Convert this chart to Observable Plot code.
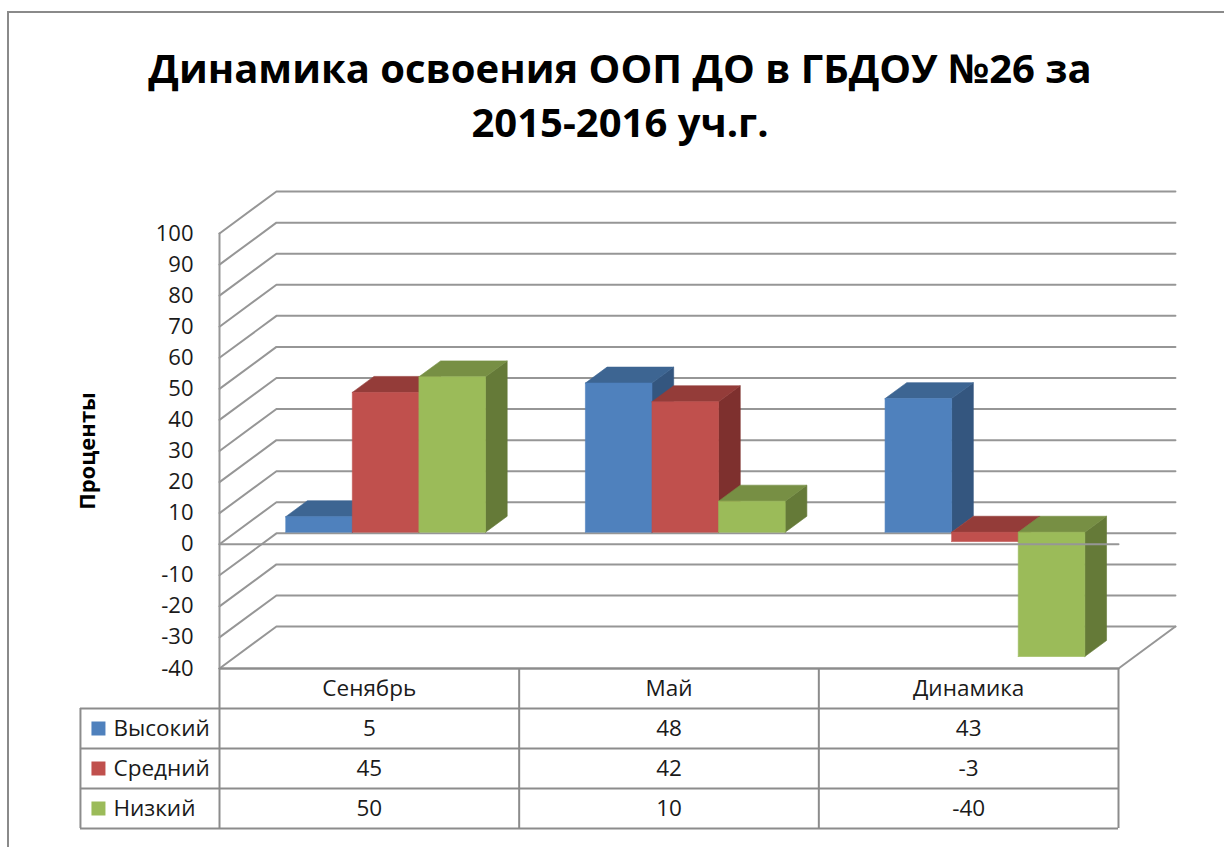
<!DOCTYPE html>
<html>
<head>
<meta charset="utf-8">
<script src="https://cdn.jsdelivr.net/npm/d3@7"></script>
<script src="https://cdn.jsdelivr.net/npm/@observablehq/plot@0.6"></script>
<style>
  html, body { margin: 0; padding: 0; background: #fff; }
  body { width: 1224px; height: 847px; position: relative; overflow: hidden; font-family: "Open Sans", sans-serif; }
  #frame { position: absolute; left: 7px; top: 11px; width: 1400px; height: 1000px; border-left: 2.5px solid #8a8a8a; border-top: 2.5px solid #8a8a8a; }
  #title { position: absolute; left: 0; top: 41px; width: 1240px; text-align: center; font-family: "Open Sans", sans-serif; font-weight: 700; font-size: 40px; line-height: 54px; color: #000; }
  #main { position: absolute; left: 0; top: 160px; }
  #table { position: absolute; left: 0; top: 660px; }
</style>
</head>
<body>
<div id="frame"></div>
<div id="title">Динамика освоения ООП ДО в ГБДОУ №26 за<br>2015-2016 уч.г.</div>
<div id="main"></div>
<div id="table"></div>
<script>
// ---- data ----
const categories = ["Сенябрь", "Май", "Динамика"];
const seriesNames = ["Высокий", "Средний", "Низкий"];
const high = [5, 48, 43];
const mid = [45, 42, -3];
const low = [50, 10, -40];
const yTicks = [-40, -30, -20, -10, 0, 10, 20, 30, 40, 50, 60, 70, 80, 90, 100];
const yLabel = "Проценты";
const frontColors = ["#4F81BD", "#C0504D", "#9BBB59"];
const topColors = ["#3D6592", "#943C39", "#778F44"];
const sideColors = ["#34567F", "#7E302E", "#657A38"];

const values = [high, mid, low];

// oblique 3D projection (depth expressed in data units)
const DEPTH_X = 0.19, DEPTH_Y = 13.5;   // full wall depth
const F0 = 0.286, F1 = 0.667;           // bar front/back depth
const P = (x, y, d) => ({x: x + d * DEPTH_X, y: y + d * DEPTH_Y});
const yMin = d3.min(yTicks), yMax = d3.max(yTicks);
const nCat = categories.length;

// walls: left-wall diagonal + back-wall gridline per tick
const walls = [];
yTicks.forEach(t => {
  [P(0, t, 0), P(0, t, 1), P(nCat, t, 1)].forEach(p => walls.push({...p, id: "g" + t}));
});
// floor right edge
[P(nCat, yMin, 0), P(nCat, yMin, 1)].forEach(p => walls.push({...p, id: "floorR"}));
// floor front edge
[P(0, yMin, 0), P(nCat, yMin, 0)].forEach(p => walls.push({...p, id: "floorF"}));
// front vertical axis
[P(0, yMin, 0), P(0, yMax, 0)].forEach(p => walls.push({...p, id: "axisV"}));

// bars as polygons, drawn left to right: side, top, front
const polys = [];
let pid = 0;
categories.forEach((c, i) => {
  seriesNames.forEach((s, k) => {
    const v = values[k][i];
    const x0 = i + 1 / 6 + k * 2 / 9, x1 = x0 + 2 / 9;
    const lo = Math.min(0, v), hi = Math.max(0, v);
    const faces = [
      [sideColors[k], [P(x1, lo, F0), P(x1, lo, F1), P(x1, hi, F1), P(x1, hi, F0)]],
      [topColors[k], [P(x0, hi, F0), P(x1, hi, F0), P(x1, hi, F1), P(x0, hi, F1)]],
      [frontColors[k], [P(x0, lo, F0), P(x1, lo, F0), P(x1, hi, F0), P(x0, hi, F0)]]
    ];
    faces.forEach(([col, pts]) => {
      const id = "p" + (pid++);
      [...pts, pts[0]].forEach(p => polys.push({...p, id, color: col}));
    });
  });
});

const zeroLine = [P(0, 0, 0), P(nCat, 0, 0)];

const main = Plot.plot({
  width: 1224,
  height: 510,
  marginLeft: 219,
  marginRight: 106,
  marginTop: 73,
  marginBottom: 2,
  x: {domain: [0, nCat], axis: null},
  y: {domain: [yMin, yMax], axis: null},
  color: {type: "identity"},
  style: {background: "transparent", overflow: "visible"},
  marks: [
    Plot.line(walls, {x: "x", y: "y", z: "id", stroke: "#969696", strokeWidth: 2}),
    Plot.line(polys, {x: "x", y: "y", z: "id", fill: "color", stroke: "color", strokeWidth: 0.6}),
    Plot.line(zeroLine, {x: "x", y: "y", stroke: "#969696", strokeWidth: 2}),
    Plot.text(yTicks, {x: 0, y: d => d, text: d => String(d), textAnchor: "end", dx: -26,
      fontSize: 22, fill: "#1a1a1a", fontFamily: "Open Sans"}),
    Plot.text([yLabel], {frameAnchor: "left", textAnchor: "middle", dx: -132, rotate: -90, fontSize: 22,
      fontWeight: "bold", fill: "#000", fontFamily: "Open Sans"})
  ]
});
document.getElementById("main").appendChild(main);

// ---- data table ----
const LEGEND_LEFT = -0.464;   // left edge of the legend column, in category units
const nRows = seriesNames.length + 1;
const hLines = [];
hLines.push({y: 0, x1: 0, x2: nCat});
for (let r = 1; r <= nRows; r++) hLines.push({y: r, x1: LEGEND_LEFT, x2: nCat});
const vLines = [{x: LEGEND_LEFT, y1: 1, y2: nRows}];
for (let i = 0; i <= nCat; i++) vLines.push({x: i, y1: 0, y2: nRows});

const cellText = [];
categories.forEach((c, i) => cellText.push({x: i + 0.5, y: 0.5, t: c}));
seriesNames.forEach((s, k) => {
  categories.forEach((c, i) => cellText.push({x: i + 0.5, y: k + 1.5, t: String(values[k][i])}));
});
const legendRows = seriesNames.map((s, k) => ({x: LEGEND_LEFT, y: k + 1.5, t: s, color: frontColors[k]}));

const table = Plot.plot({
  width: 1224,
  height: 180,
  marginLeft: 219,
  marginRight: 106,
  marginTop: 8,
  marginBottom: 12,
  x: {domain: [0, nCat], axis: null},
  y: {domain: [0, nRows], reverse: true, axis: null},
  color: {type: "identity"},
  style: {background: "transparent", overflow: "visible"},
  marks: [
    Plot.ruleY(hLines, {y: "y", x1: "x1", x2: "x2", stroke: "#8c8c8c", strokeWidth: 2}),
    Plot.ruleX(vLines, {x: "x", y1: "y1", y2: "y2", stroke: "#8c8c8c", strokeWidth: 2}),
    Plot.text(cellText, {x: "x", y: "y", text: "t", fontSize: 22.5, fill: "#1a1a1a", fontFamily: "Open Sans"}),
    Plot.dot(legendRows, {x: "x", y: "y", symbol: "square", r: 7.9, fill: "color", dx: 18}),
    Plot.text(legendRows, {x: "x", y: "y", text: "t", textAnchor: "start", dx: 33, fontSize: 22.5, fill: "#1a1a1a", fontFamily: "Open Sans"})
  ]
});
document.getElementById("table").appendChild(table);
</script>
</body>
</html>
